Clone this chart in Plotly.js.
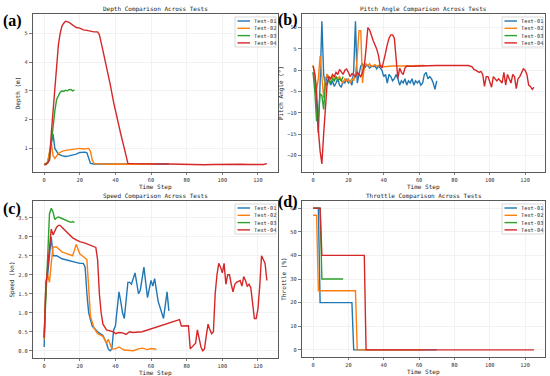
<!DOCTYPE html>
<html><head><meta charset="utf-8">
<script src="https://cdn.plot.ly/plotly-3.0.1.min.js"></script>
<style>html,body{margin:0;padding:0;background:#fff}#chart{width:550px;height:376px}</style>
</head><body><div id="chart"></div>
<script>
// ---------- data ----------
const seriesNames = ["Test-01", "Test-02", "Test-03", "Test-04"];
const seriesColors = ["#1f77b4", "#ff7f0e", "#2ca02c", "#d62728"];
const panelTitles = ["Depth Comparison Across Tests", "Pitch Angle Comparison Across Tests", "Speed Comparison Across Tests", "Throttle Comparison Across Tests"];
const xTitle = "Time Step";
const yTitles = ["Depth (m)", "Pitch Angle (°)", "Speed (kn)", "Throttle (%)"];
const panelLabels = ["(a)", "(b)", "(c)", "(d)"];
const xTickVals = [0, 20, 40, 60, 80, 100, 120];

// Depth
const depth01T = [0,1,2,3,4,5,6,7,8,10,12,14,16,18,20,22,23,24,25,26,28,30,35,40,45,50,55,60,65,70];
const depth01V = [0.45,0.46,0.5,0.8,1.2,1.5,1.0,0.88,0.8,0.75,0.72,0.74,0.76,0.8,0.86,0.88,0.87,0.85,0.65,0.48,0.46,0.46,0.45,0.46,0.45,0.46,0.46,0.47,0.46,0.46];
const depth02T = [0,1,2,3,4,5,6,8,10,12,14,16,18,20,22,24,25,26,27,28,30,35,40,45,50,55,60,63];
const depth02V = [0.45,0.46,0.55,0.9,1.2,0.75,0.65,0.82,0.9,0.93,0.95,0.96,0.97,1.0,0.98,1.0,1.0,0.9,0.6,0.47,0.46,0.45,0.46,0.45,0.46,0.45,0.46,0.46];
const depth03T = [0,1,2,3,4,5,6,7,8,9,10,11,12,13,14,15,16,17];
const depth03V = [0.45,0.47,0.5,0.6,1.2,1.9,2.3,2.7,2.85,2.95,3.0,2.98,3.02,3.0,3.04,3.05,3.0,3.03];
const depth04T = [0,1,2,3,4,5,6,7,8,9,10,11,12,14,16,18,20,22,24,26,28,30,31,33,35,37,39,41,43,45,47,50,55,60,65,70,75,80,85,90,95,100,105,110,115,120,123,125];
const depth04V = [0.43,0.44,0.5,0.6,1.5,2.3,3.2,4.0,4.6,5.0,5.25,5.35,5.42,5.38,5.3,5.2,5.18,5.12,5.1,5.07,5.05,5.05,4.95,4.4,3.85,3.25,2.6,2.0,1.5,1.0,0.48,0.47,0.46,0.47,0.46,0.46,0.45,0.46,0.45,0.43,0.44,0.45,0.46,0.45,0.44,0.45,0.44,0.47];

// Pitch
const pitch01T = [0,1,2,3,4,5,6,7,8,9,10,11,12,13,14,15,16,17,18,19,20,21,22,23,24,25,26,27,28,29,30,31,32,33,34,35,36,37,38,39,40,41,42,43,44,45,46,47,48,49,50,51,52,53,54,55,56,57,58,59,60,61,62,63,64,65,66,67,68,69,70];
const pitch01V = [-0.5,-2,-8,-14.8,-3,11.5,-1,-3.5,-1,-2.5,-3.5,-2.5,-3.8,-3,-2,-3.5,-4,-2.5,-3,-2,-3,-2.5,-3.5,0,11.5,-3,-1,1,1.5,0.5,1,1.2,0.5,1,0.8,1,0.3,1,0.5,0,-1.5,-1,-3,-1,-1.5,-2.5,-2,-1,-2,-3.5,-2.5,-3,-2,-3.5,-2.5,-3,-2,-3.5,-2.5,-3,-2.5,-3.5,-3,-1,-0.5,-2,-1.5,-2,-3,-4.5,-2.5];
const pitch02T = [0,1,2,3,4,5,6,7,8,9,10,11,12,13,14,15,16,17,18,19,20,21,22,23,24,25,26,27,28,29,30,31,32,33,34,35,36,38,40,45,50,55,60,63];
const pitch02V = [1.2,-1,-4.5,-2,3.3,-2,-6.5,-2,-1,-1.5,-2,-1.5,-2.5,-1.5,-2,-1.5,-2.5,-3,-2,-2.5,-2,-3,-2,-2.5,-1,3,9.3,9.3,-3,1,1.5,1,1.5,0.8,1,1.3,1,1.2,0.8,1,1,1.1,1.2,1.1];
const pitch03T = [0,1,2,3,4,5,6,7,8,9,10,11,12,13,14,15,16,17];
const pitch03V = [-0.5,-5,-12,-11,-5.5,-6,-9.2,-3,-3.5,-2,-3,-2,-2.5,-1.5,-2.5,-2,-2.5,-1.5];
const pitch04T = [0,1,2,3,4,5,6,7,8,9,10,11,12,13,14,15,16,17,18,19,20,21,22,23,24,25,26,27,28,29,30,31,32,33,34,35,36,37,38,39,40,41,42,43,44,45,46,47,48,49,50,51,52,53,55,60,65,70,75,80,85,88,90,91,92,93,94,95,96,97,98,99,100,101,102,103,104,105,106,107,108,109,110,111,112,113,114,115,116,117,118,119,120,121,122,123,124,125];
const pitch04V = [1,-1,-5,-14,-19,-22,-15,-8,-3,-1.5,-2,-1,-1.5,-0.5,-1,0.2,-0.5,-1,0,0.3,-0.5,-1.5,-0.8,-1,-1.5,-0.5,-1,-1.5,-0.5,1,5,10,9.5,8,7,6,5,3.5,1,0.5,2,4,6,7.5,8.3,8.3,7.5,3,-2,0.5,-0.5,-1,0.5,1,0.9,1,1.1,1.1,1.1,1.15,1.2,1.1,0.8,0.2,0,-0.2,-0.5,-0.3,-1,-3.8,-1.5,-1.5,-3,-4,-1.5,-2,-2.5,-2,-2.5,-3,-0.5,-3.5,-1,-2,-3,-1,-1.5,-4.3,-2,-1.5,-0.5,0.3,0,-1,-3.5,-3.8,-4.5,-4];

// Speed
const speed01T = [0,1,2,3,4,5,7,10,15,20,22,23,24,25,27,30,33,35,36,37,38,39,40,41,42,43,44,45,47,48,49,51,53,54,56,58,60,61,62,64,67,69,70];
const speed01V = [0.1,1.8,2.0,2.5,3.0,2.5,2.5,2.42,2.35,2.3,2.3,2.2,1.5,1.0,0.65,0.5,0.4,0.2,0.05,0.0,0.05,0.55,0.65,1.2,1.55,1.3,1.0,0.85,1.8,1.8,1.75,2.05,1.5,1.6,2.2,1.4,1.85,1.7,1.9,1.3,0.85,1.55,1.05];
const speed02T = [0,1,2,3,4,5,7,10,13,16,18,20,24,25,26,28,30,33,35,36,37,38,40,42,45,50,53,55,58,60,63];
const speed02V = [0.3,1.8,2.0,1.8,2.3,2.73,2.73,2.6,2.55,2.5,2.8,2.55,2.4,1.5,0.9,0.6,0.45,0.38,0.2,0.3,0.15,0.05,0.05,0.1,0.02,0.0,0.05,0.07,0.03,0.06,0.04];
const speed03T = [0,1,2,3,4,5,6,7,8,10,12,14,15,16,17];
const speed03V = [0.35,1.7,2.5,3.6,3.75,3.65,3.45,3.5,3.52,3.48,3.45,3.4,3.38,3.4,3.37];
const speed04T = [0,1,2,3,4,5,6,7,8,9,10,13,16,18,20,23,26,29,30,31,32,33,35,37,39,40,42,44,46,48,50,55,60,65,70,75,76,77,80,81,82,83,85,86,87,88,89,90,91,92,93,94,95,96,97,98,99,100,101,102,103,104,105,106,107,108,110,111,112,113,114,115,116,117,118,119,120,121,122,123,124,125];
const speed04V = [0.35,1.7,2.2,2.8,3.2,3.05,3.15,3.25,3.3,3.3,3.25,3.1,2.97,2.92,2.87,2.83,2.78,2.72,2.4,1.5,1.0,0.7,0.55,0.52,0.5,0.45,0.48,0.47,0.43,0.5,0.48,0.5,0.58,0.65,0.72,0.8,0.82,0.65,0.65,0.66,0.05,0.1,0.2,0.55,0.35,0.1,0.0,0.05,0.4,0.7,0.55,0.45,0.5,1.5,2.0,2.3,2.2,2.05,2.3,1.75,2.0,2.0,1.75,1.55,1.75,1.8,1.85,1.7,1.95,1.85,1.7,1.75,1.65,1.2,0.85,0.85,1.1,1.7,2.5,2.4,2.3,1.85];

// Throttle
const thr01T = [0,3,4,22,23,70];
const thr01V = [60,60,20,20,0,0];
const thr02T = [0,2,3,24,25,63];
const thr02V = [57,57,25,25,0,0];
const thr03T = [0,4,5,17];
const thr03V = [60,60,30,30];
const thr04T = [0,4,5,29,30,125];
const thr04V = [60,60,40,40,0,0];

const panelData = [
  [[depth01T,depth01V],[depth02T,depth02V],[depth03T,depth03V],[depth04T,depth04V]],
  [[pitch01T,pitch01V],[pitch02T,pitch02V],[pitch03T,pitch03V],[pitch04T,pitch04V]],
  [[speed01T,speed01V],[speed02T,speed02V],[speed03T,speed03V],[speed04T,speed04V]],
  [[thr01T,thr01V],[thr02T,thr02V],[thr03T,thr03V],[thr04T,thr04V]]
];

// ---------- layout geometry ----------
const W = 550, H = 376;
const px = x => x / W, py = y => 1 - y / H;
const boxes = [
  {x:[33,278], y:[14,172]},
  {x:[302,545], y:[14,172]},
  {x:[33,278], y:[201,358]},
  {x:[302,545], y:[201,357]}
];
const yRanges = [[0.18,5.67],[-23.9,13.2],[-0.19,3.94],[-3,63]];
const yTicks = [[1,2,3,4,5],[-20,-15,-10,-5,0,5,10],[0,0.5,1,1.5,2,2.5,3,3.5],[0,10,20,30,40,50,60]];
const yFormats = ["", "", ".1f", ""];
const labelPos = [[12,21],[288,20],[12,209],[288,202]];
const xTitleY = [186.5, 186.5, 372.5, 372];

const MONO = "DejaVu Sans Mono";
const traces = [];
const layout = {
  width: W, height: H, margin: {l:0,r:0,t:0,b:0},
  paper_bgcolor: "#fff", plot_bgcolor: "#fff", showlegend: false,
  shapes: [], annotations: []
};

boxes.forEach((b, i) => {
  const n = i === 0 ? "" : String(i + 1);
  const xa = "xaxis" + n, ya = "yaxis" + n;
  const axCommon = {
    showline: true, mirror: true, linecolor: "#5a5a5a", linewidth: 1.2,
    showgrid: true, gridcolor: "#ececec", gridwidth: 0.7, zeroline: false,
    ticks: "outside", ticklen: 3, tickwidth: 0.8, tickcolor: "#5a5a5a",
    tickfont: {family: MONO, size: 5.3, color: "#333"}
  };
  layout[xa] = Object.assign({}, axCommon, {
    domain: [px(b.x[0]), px(b.x[1])], range: [-6.25, 131.25], anchor: "y" + n,
    tickvals: xTickVals, ticklen: 2
  });
  layout[ya] = Object.assign({}, axCommon, {
    domain: [py(b.y[1]), py(b.y[0])], range: yRanges[i], anchor: "x" + n,
    tickvals: yTicks[i], tickformat: yFormats[i],
    title: {text: yTitles[i], font: {family: MONO, size: 6, color: "#222"}, standoff: 3}
  });
  panelData[i].forEach((s, k) => {
    traces.push({
      type: "scatter", mode: "lines", x: s[0], y: s[1], name: seriesNames[k],
      xaxis: "x" + n, yaxis: "y" + n,
      line: {color: seriesColors[k], width: 1.4}
    });
  });
  // x-axis title
  layout.annotations.push({
    xref: "paper", yref: "paper", x: px((b.x[0] + b.x[1]) / 2), y: py(xTitleY[i]),
    xanchor: "center", yanchor: "middle", showarrow: false, text: xTitle,
    font: {family: MONO, size: 6, color: "#222"}
  });
  // subplot title
  layout.annotations.push({
    xref: "paper", yref: "paper", x: px((b.x[0] + b.x[1]) / 2), y: py(b.y[0] - 5),
    xanchor: "center", yanchor: "middle", showarrow: false, text: panelTitles[i],
    font: {family: MONO, size: 6, color: "#222"}
  });
  // panel label
  layout.annotations.push({
    xref: "paper", yref: "paper", x: px(labelPos[i][0]), y: py(labelPos[i][1]),
    xanchor: "center", yanchor: "middle", showarrow: false, text: "<b>" + panelLabels[i] + "</b>",
    font: {family: "Liberation Serif", size: 16, color: "#000"}
  });
  // legend box
  const right = b.x[1] - 2, left = right - 41, top = b.y[0] + 3, bottom = top + 30;
  layout.shapes.push({
    type: "rect", xref: "paper", yref: "paper", x0: px(left), x1: px(right), y0: py(bottom), y1: py(top),
    fillcolor: "rgba(255,255,255,0.85)", line: {color: "#cfcfcf", width: 0.8}
  });
  seriesNames.forEach((nm, k) => {
    const yy = top + 4 + k * 7.3;
    layout.shapes.push({
      type: "line", xref: "paper", yref: "paper", x0: px(left + 2.5), x1: px(left + 15), y0: py(yy), y1: py(yy),
      line: {color: seriesColors[k], width: 1.4}
    });
    layout.annotations.push({
      xref: "paper", yref: "paper", x: px(left + 17), y: py(yy), xanchor: "left", yanchor: "middle",
      showarrow: false, text: nm, font: {family: MONO, size: 5.3, color: "#333"}
    });
  });
});

Plotly.newPlot("chart", traces, layout, {staticPlot: true, displayModeBar: false});
</script>
</body></html>
